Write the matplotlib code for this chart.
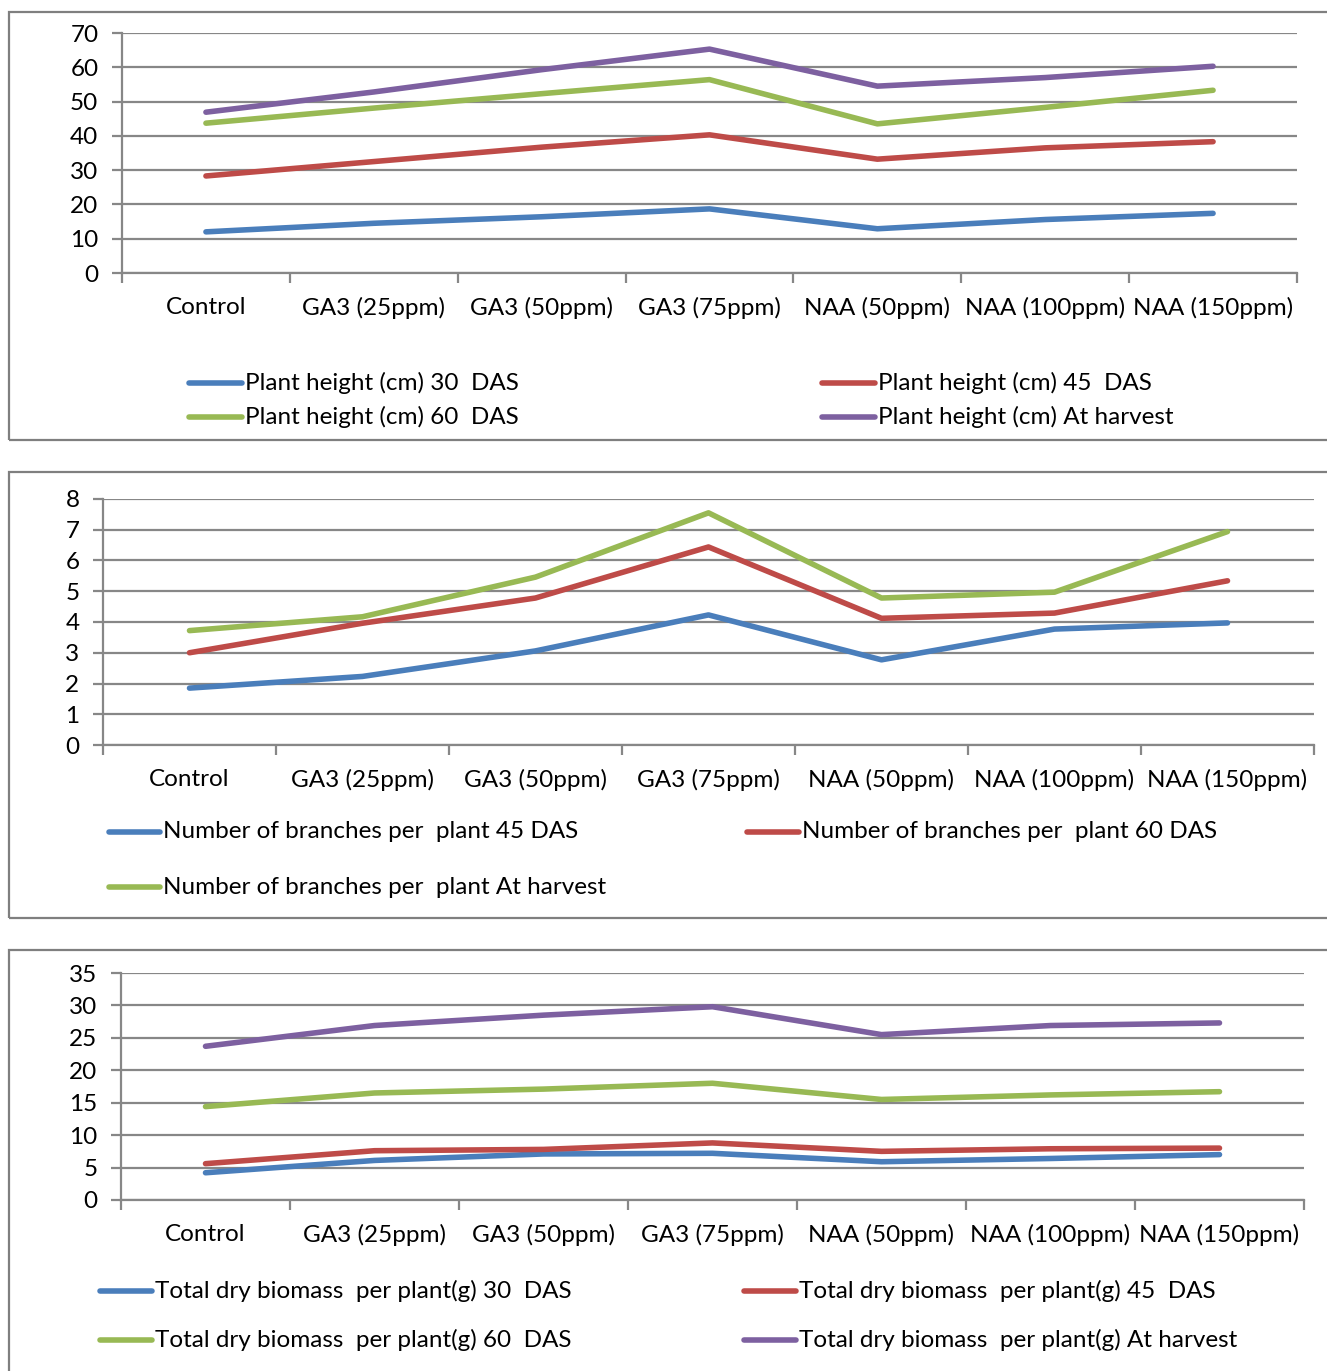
import matplotlib.pyplot as plt
from matplotlib.lines import Line2D
from matplotlib.patches import Rectangle
import numpy as np

plt.rcParams['font.family'] = ['Lato', 'DejaVu Sans']

treatments = ['Control', 'GA3 (25ppm)', 'GA3 (50ppm)', 'GA3 (75ppm)',
              'NAA (50ppm)', 'NAA (100ppm)', 'NAA (150ppm)']

# plant height (cm)
height_30 = [12.0, 14.5, 16.4, 18.7, 12.9, 15.6, 17.4]
height_45 = [28.3, 32.5, 36.7, 40.3, 33.2, 36.5, 38.3]
height_60 = [43.7, 48.1, 52.3, 56.4, 43.5, 48.3, 53.3]
height_harvest = [46.9, 52.8, 59.3, 65.3, 54.5, 57.0, 60.3]

# number of branches per plant
branches_45 = [1.85, 2.23, 3.06, 4.23, 2.77, 3.77, 3.97]
branches_60 = [3.0, 3.96, 4.78, 6.44, 4.12, 4.29, 5.34]
branches_harvest = [3.72, 4.17, 5.46, 7.55, 4.78, 4.97, 6.94]

# total dry biomass per plant (g)
biomass_30 = [4.2, 6.1, 7.1, 7.2, 5.9, 6.4, 7.0]
biomass_45 = [5.6, 7.6, 7.8, 8.8, 7.5, 7.9, 8.0]
biomass_60 = [14.4, 16.5, 17.1, 18.0, 15.5, 16.2, 16.7]
biomass_harvest = [23.7, 26.9, 28.5, 29.8, 25.5, 26.9, 27.3]

BLUE, RED, GREEN, PURPLE = '#4a7ebb', '#be4b48', '#98b954', '#7d60a0'
GREY = '#878787'
FS = 17.5

W, H = 1327, 1371
fig = plt.figure(figsize=(W / 100, H / 100), dpi=100)


def px(x, y):
    return x / W, 1 - y / H


def panel(box, axpos, series, ymax, ystep, legend):
    # chart-area frame
    x0, y0, x1, y1 = box
    fig.patches.append(Rectangle(px(x0, y1), (x1 - x0) / W, (y1 - y0) / H,
                                 transform=fig.transFigure, fill=False,
                                 edgecolor='#7f7f7f', linewidth=1.6))
    l, t, r, b = axpos
    ax = fig.add_axes([l / W, 1 - b / H, (r - l) / W, (b - t) / H])
    xs = np.arange(len(treatments))
    for vals, col, _ in series:
        ax.plot(xs, vals, color=col, linewidth=4, solid_capstyle='round',
                solid_joinstyle='round')
    ax.set_xlim(-0.5, len(treatments) - 0.5)
    ax.set_ylim(0, ymax)
    ax.set_yticks(np.arange(0, ymax + ystep / 2, ystep))
    ax.yaxis.grid(True, color=GREY, linewidth=1.6)
    ax.set_axisbelow(True)
    ax.set_xticks(np.arange(-0.5, len(treatments), 1))
    ax.set_xticklabels([])
    ax.set_xticks(xs, minor=True)
    ax.set_xticklabels(treatments, minor=True, fontsize=FS)
    ax.tick_params(axis='x', which='major', length=7, width=1.6, color=GREY)
    ax.tick_params(axis='x', which='minor', length=0, pad=17)
    ax.tick_params(axis='y', length=7, width=1.6, color=GREY, pad=10,
                   labelsize=FS)
    for s in ['top', 'right']:
        ax.spines[s].set_visible(False)
    for s in ['left', 'bottom']:
        ax.spines[s].set_color(GREY)
        ax.spines[s].set_linewidth(1.6)

    # legend entries: (line x0, line x1, y) per series
    for (vals, col, label), (lx0, lx1, ly) in zip(series, legend):
        fx0, fy = px(lx0, ly)
        fx1, _ = px(lx1, ly)
        fig.add_artist(Line2D([fx0, fx1], [fy, fy], color=col, linewidth=4,
                              solid_capstyle='round', transform=fig.transFigure))
        fig.text(fx1 + 3 / W, fy, label, fontsize=FS, va='center', ha='left')
    return ax


panel((9, 12, 1340, 440), (122, 33, 1297, 273),
      [(height_30, BLUE, 'Plant height (cm) 30  DAS'),
       (height_45, RED, 'Plant height (cm) 45  DAS'),
       (height_60, GREEN, 'Plant height (cm) 60  DAS'),
       (height_harvest, PURPLE, 'Plant height (cm) At harvest')],
      70, 10,
      [(189, 242, 383), (822, 875, 383), (189, 242, 417), (822, 875, 417)])

panel((9, 472, 1340, 918), (103, 499, 1314, 745),
      [(branches_45, BLUE, 'Number of branches per  plant 45 DAS'),
       (branches_60, RED, 'Number of branches per  plant 60 DAS'),
       (branches_harvest, GREEN, 'Number of branches per  plant At harvest')],
      8, 1,
      [(109, 160, 832), (747, 799, 832), (109, 160, 887)])

panel((9, 950, 1340, 1400), (121, 973, 1304, 1200),
      [(biomass_30, BLUE, 'Total dry biomass  per plant(g) 30  DAS'),
       (biomass_45, RED, 'Total dry biomass  per plant(g) 45  DAS'),
       (biomass_60, GREEN, 'Total dry biomass  per plant(g) 60  DAS'),
       (biomass_harvest, PURPLE, 'Total dry biomass  per plant(g) At harvest')],
      35, 5,
      [(100, 152, 1291), (744, 796, 1291), (100, 152, 1340), (744, 796, 1340)])

fig.savefig('out.png', dpi=100)
